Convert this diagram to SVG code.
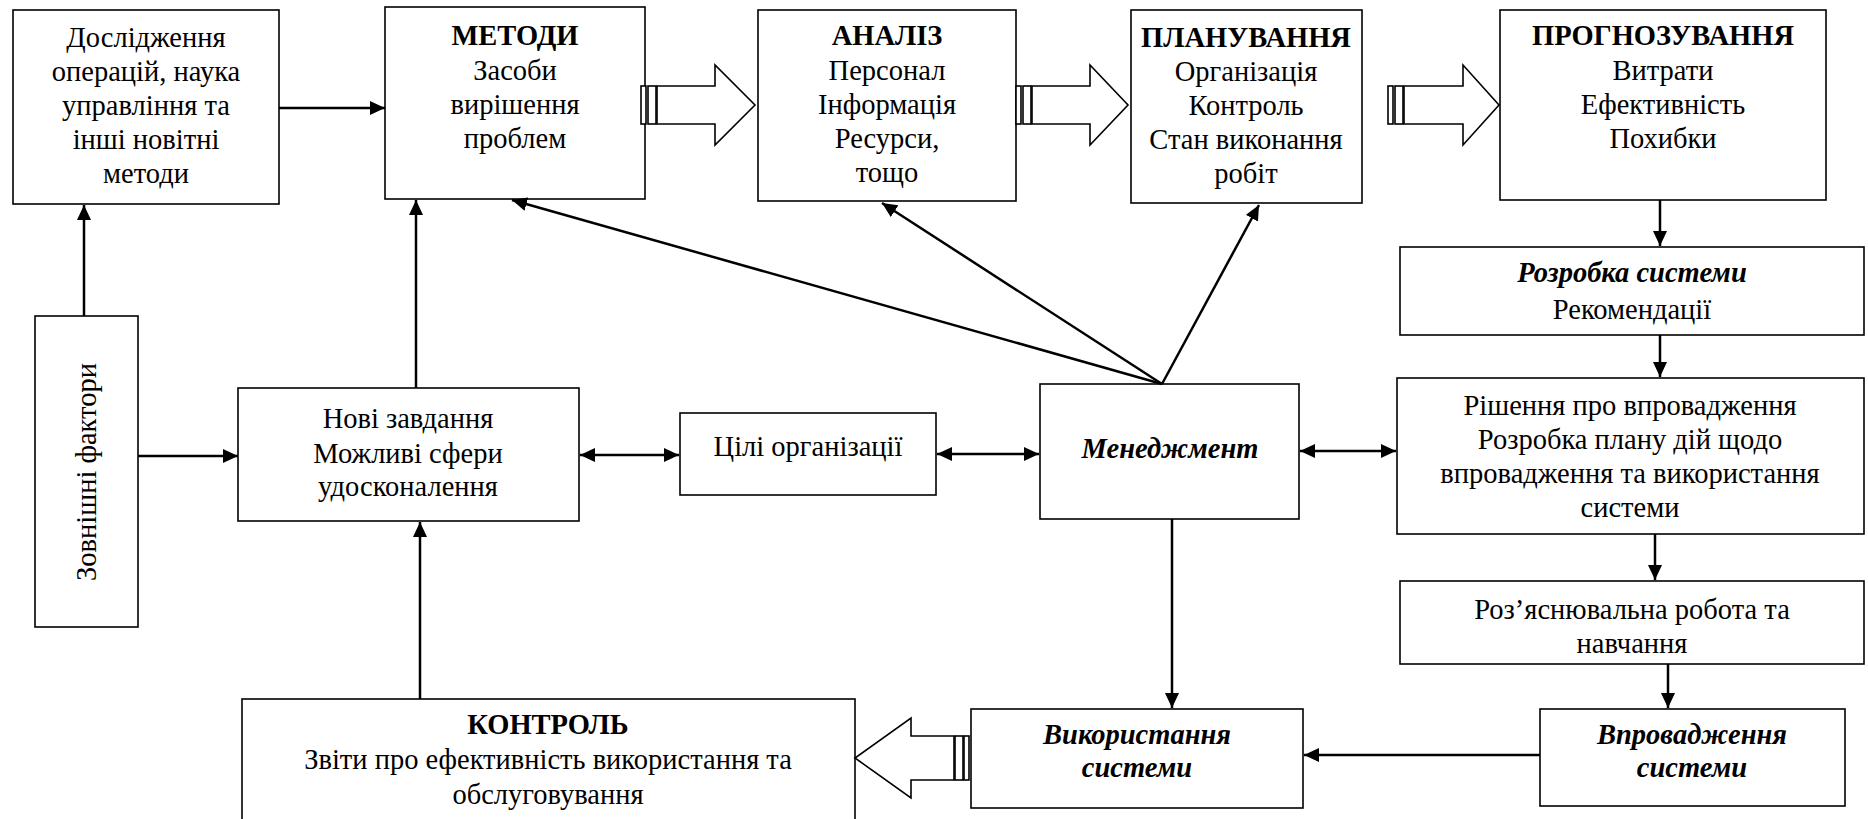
<svg xmlns="http://www.w3.org/2000/svg" width="1868" height="819" viewBox="0 0 1868 819">
<defs>
<marker id="ah" markerUnits="userSpaceOnUse" markerWidth="16" markerHeight="14" refX="15" refY="7" orient="auto-start-reverse"><path d="M0,0 L15,7 L0,14 z" fill="#000"/></marker>
<style>
.box{fill:#fff;stroke:#000;stroke-width:1.6}
.blk{fill:#fff;stroke:#000;stroke-width:1.6}
.ln{fill:none;stroke:#000;stroke-width:2.5}
.a{marker-end:url(#ah)}
.d{marker-start:url(#ah);marker-end:url(#ah)}
.t text{font-family:'Liberation Serif','Times New Roman',serif;font-size:28.5px;fill:#000;text-anchor:middle}
.b{font-weight:bold}
.bi{font-weight:bold;font-style:italic}
</style>
</defs>
<rect width="1868" height="819" fill="#fff"/>
<g class="t" font-family="'Liberation Serif', serif">
<g id="n-research"><rect class="box" x="13" y="10" width="266" height="194"/>
<text x="146" y="47">Дослідження</text><text x="146" y="81">операцій, наука</text><text x="146" y="115">управління та</text><text x="146" y="149">інші новітні</text><text x="146" y="183">методи</text></g>
<g id="n-methods"><rect class="box" x="385" y="7" width="260" height="192"/>
<text class="b" x="515" y="45">МЕТОДИ</text><text x="515" y="80">Засоби</text><text x="515" y="114">вирішення</text><text x="515" y="148">проблем</text></g>
<g id="n-analysis"><rect class="box" x="758" y="10" width="258" height="191"/>
<text class="b" x="887" y="45">АНАЛІЗ</text><text x="887" y="80">Персонал</text><text x="887" y="114">Інформація</text><text x="887" y="148">Ресурси,</text><text x="887" y="182">тощо</text></g>
<g id="n-planning"><rect class="box" x="1131" y="10" width="231" height="193"/>
<text class="b" x="1246" y="47">ПЛАНУВАННЯ</text><text x="1246" y="81">Організація</text><text x="1246" y="115">Контроль</text><text x="1246" y="149">Стан виконання</text><text x="1246" y="183">робіт</text></g>
<g id="n-forecast"><rect class="box" x="1500" y="10" width="326" height="190"/>
<text class="b" x="1663" y="45">ПРОГНОЗУВАННЯ</text><text x="1663" y="80">Витрати</text><text x="1663" y="114">Ефективність</text><text x="1663" y="148">Похибки</text></g>
<g id="n-external"><rect class="box" x="35" y="316" width="103" height="311"/>
<text transform="translate(96,472) rotate(-90)">Зовнішні фактори</text></g>
<g id="n-newtasks"><rect class="box" x="238" y="388" width="341" height="133"/>
<text x="408" y="428">Нові завдання</text><text x="408" y="463">Можливі сфери</text><text x="408" y="496">удосконалення</text></g>
<g id="n-goals"><rect class="box" x="680" y="413" width="256" height="82"/>
<text x="808" y="456">Цілі організації</text></g>
<g id="n-management"><rect class="box" x="1040" y="384" width="259" height="135"/>
<text class="bi" x="1170" y="458">Менеджмент</text></g>
<g id="n-sysdev"><rect class="box" x="1400" y="247" width="464" height="88"/>
<text class="bi" x="1632" y="282">Розробка системи</text><text x="1632" y="319">Рекомендації</text></g>
<g id="n-decision"><rect class="box" x="1397" y="378" width="467" height="156"/>
<text x="1630" y="415">Рішення про впровадження</text><text x="1630" y="449">Розробка плану дій щодо</text><text x="1630" y="483">впровадження та використання</text><text x="1630" y="517">системи</text></g>
<g id="n-training"><rect class="box" x="1400" y="581" width="464" height="83"/>
<text x="1632" y="619">Роз’яснювальна робота та</text><text x="1632" y="653">навчання</text></g>
<g id="n-implement"><rect class="box" x="1540" y="709" width="305" height="97"/>
<text class="bi" x="1692" y="744">Впровадження</text><text class="bi" x="1692" y="777">системи</text></g>
<g id="n-usage"><rect class="box" x="971" y="709" width="332" height="99"/>
<text class="bi" x="1137" y="744">Використання</text><text class="bi" x="1137" y="777">системи</text></g>
<g id="n-control"><rect class="box" x="242" y="699" width="613" height="124"/>
<text class="b" x="548" y="734">КОНТРОЛЬ</text><text x="548" y="769">Звіти про ефективність використання та</text><text x="548" y="804">обслуговування</text></g>
</g>
<g id="connectors">
<line class="ln a" x1="279" y1="108" x2="385" y2="108"/>
<line class="ln a" x1="84" y1="316" x2="84" y2="205"/>
<line class="ln a" x1="138" y1="456" x2="238" y2="456"/>
<line class="ln a" x1="416" y1="388" x2="416" y2="200"/>
<line class="ln a" x1="420" y1="699" x2="420" y2="522"/>
<line class="ln d" x1="580" y1="455" x2="679" y2="455"/>
<line class="ln d" x1="937" y1="454" x2="1039" y2="454"/>
<line class="ln d" x1="1300" y1="451" x2="1396" y2="451"/>
<line class="ln a" x1="1162" y1="384" x2="512" y2="200"/>
<line class="ln a" x1="1162" y1="384" x2="882" y2="203"/>
<line class="ln a" x1="1162" y1="384" x2="1259" y2="205"/>
<line class="ln a" x1="1660" y1="200" x2="1660" y2="246"/>
<line class="ln a" x1="1660" y1="335" x2="1660" y2="377"/>
<line class="ln a" x1="1655" y1="534" x2="1655" y2="580"/>
<line class="ln a" x1="1668" y1="664" x2="1668" y2="708"/>
<line class="ln a" x1="1540" y1="755" x2="1304" y2="755"/>
<line class="ln a" x1="1172" y1="519" x2="1172" y2="708"/>
<g id="blk1"><rect class="blk" x="641" y="86" width="5" height="38"/><rect class="blk" x="648" y="86" width="8" height="38"/><polygon class="blk" points="657,86 715,86 715,65 755,105 715,145 715,124 657,124"/></g>
<g id="blk2"><rect class="blk" x="1016" y="86" width="5" height="38"/><rect class="blk" x="1023" y="86" width="8" height="38"/><polygon class="blk" points="1032,86 1090,86 1090,65 1128,105 1090,145 1090,124 1032,124"/></g>
<g id="blk3"><rect class="blk" x="1388" y="86" width="5" height="38"/><rect class="blk" x="1395" y="86" width="8" height="38"/><polygon class="blk" points="1404,86 1463,86 1463,65 1499,105 1463,145 1463,124 1404,124"/></g>
<g id="blk4"><rect class="blk" x="964" y="736" width="5" height="44"/><rect class="blk" x="955" y="736" width="8" height="44"/><polygon class="blk" points="954,736 911,736 911,718 855,758 911,798 911,780 954,780"/></g>
</g>
</svg>
